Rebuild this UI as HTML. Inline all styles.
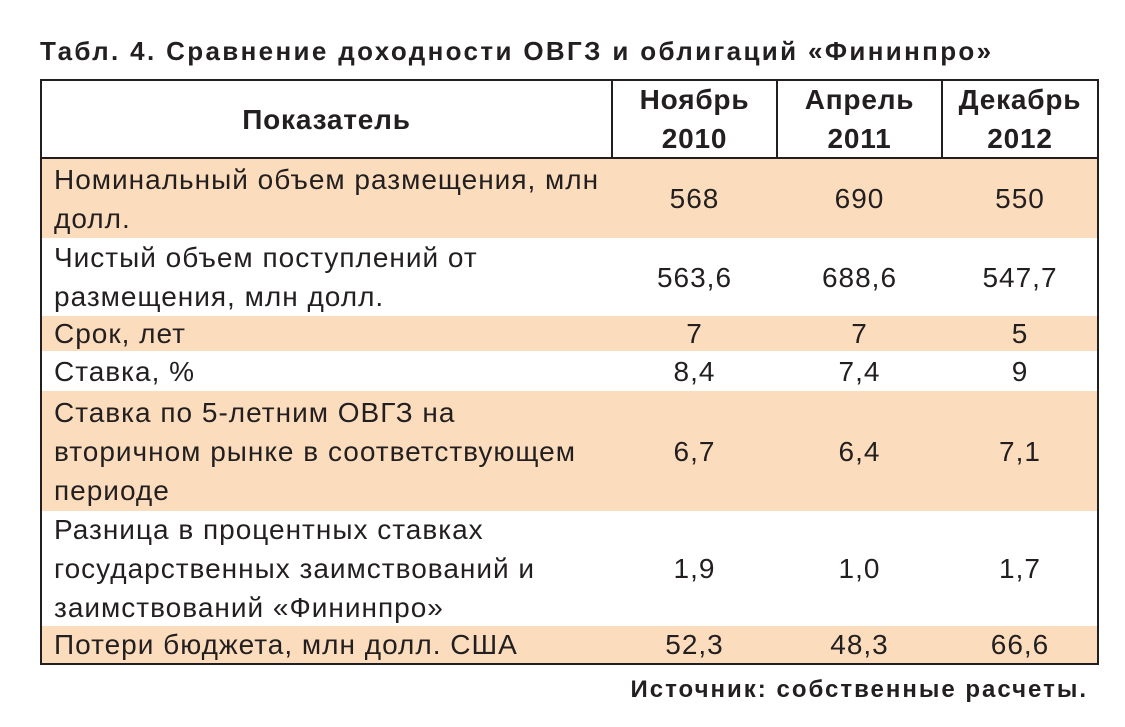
<!DOCTYPE html>
<html><head><meta charset="utf-8"><style>
body{margin:0;width:1125px;height:727px;background:#fff;font-family:"Liberation Sans",sans-serif;color:#231f20;position:relative;overflow:hidden}
.a{position:absolute}
.t{left:40px;top:36px;font-size:26px;font-weight:bold;white-space:nowrap;letter-spacing:2.35px}
.tbl{left:40px;top:79px;width:1055px;height:582px;border:2px solid #231f20}
.vl{position:absolute;top:0;width:2px;height:78px;background:#231f20}
.hl{position:absolute;left:0;top:76px;width:100%;height:2px;background:#231f20}
.row{position:absolute;left:0;width:100%}
.sh{background:#fbddbd}
.c{position:absolute;display:flex;align-items:center;font-size:28px;line-height:39px;letter-spacing:1px;white-space:nowrap}
.c0{left:12px;width:560px}
.n{justify-content:center}
.h{font-weight:bold;font-size:28px;text-align:center;justify-content:center;letter-spacing:0.8px}
.f{right:37px;top:676px;font-size:24px;font-weight:bold;letter-spacing:2px;white-space:nowrap}
</style></head><body>
<div class="a t">Табл. 4. Сравнение доходности ОВГЗ и облигаций «Фининпро»</div>
<div class="a tbl">
 <div class="vl" style="left:569px"></div><div class="vl" style="left:734px"></div><div class="vl" style="left:899px"></div><div class="hl"></div>
 <div class="c h" style="left:0;width:569px;top:0;height:76px">Показатель</div>
 <div class="c h" style="left:571px;width:163px;top:0;height:76px">Ноябрь<br>2010</div>
 <div class="c h" style="left:736px;width:163px;top:0;height:76px">Апрель<br>2011</div>
 <div class="c h" style="left:901px;width:154px;top:0;height:76px">Декабрь<br>2012</div>
 <div id="body"></div>
</div>
<div class="a f">Источник: собственные расчеты.</div>
<script>
const labels=["Номинальный объем размещения, млн<br>долл.","Чистый объем поступлений от<br>размещения, млн долл.","Срок, лет","Ставка, %","Ставка по 5-летним ОВГЗ на<br>вторичном рынке в соответствующем<br>периоде","Разница в процентных ставках<br>государственных заимствований и<br>заимствований «Фининпро»","Потери бюджета, млн долл. США"];
const nov2010=["568","563,6","7","8,4","6,7","1,9","52,3"];
const apr2011=["690","688,6","7","7,4","6,4","1,0","48,3"];
const dec2012=["550","547,7","5","9","7,1","1,7","66,6"];
const rowTops=[78,157,235,270,310,430,545];
const rowH=[79,78,35,40,120,115,37];
const body=document.getElementById('body');
labels.forEach((l,i)=>{
 const r=document.createElement('div');
 r.className='row'+(i%2===0?' sh':'');
 r.style.top=rowTops[i]+'px';r.style.height=rowH[i]+'px';
 
 
 const cells=[[l,'c c0',0,560],[nov2010[i],'c n',571,163],[apr2011[i],'c n',736,163],[dec2012[i],'c n',901,154]];
 cells.forEach(([t,cls,x,w],j)=>{
  const c=document.createElement('div');c.className=cls;c.innerHTML=t;
  if(j>0){c.style.left=x+'px';c.style.width=w+'px';}
  c.style.top='0';c.style.height=rowH[i]+'px';
  
  
  r.appendChild(c);
 });
 body.appendChild(r);
});
</script>
</body></html>
